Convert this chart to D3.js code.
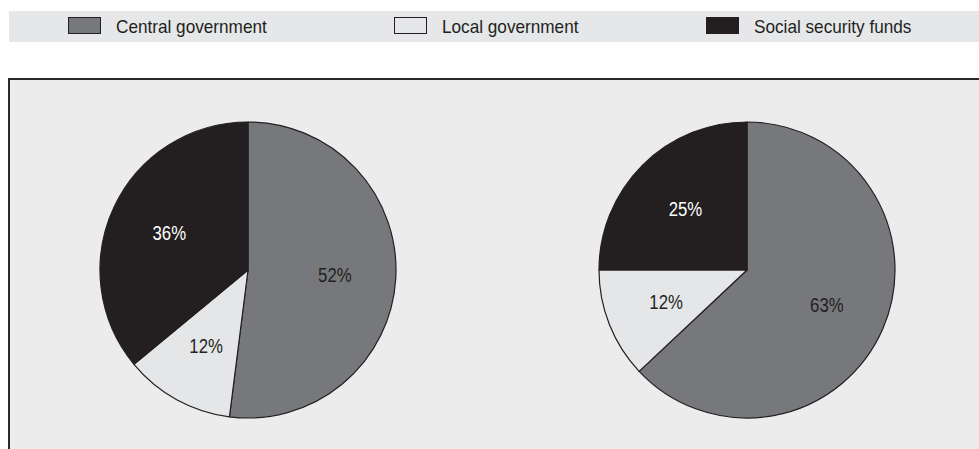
<!DOCTYPE html>
<html>
<head>
<meta charset="utf-8">
<script src="https://cdn.jsdelivr.net/npm/d3@7"></script>
<style>
  html, body { margin: 0; padding: 0; background: #ffffff; }
  svg { display: block; }
  text { font-family: "Liberation Sans", Arial, Helvetica, sans-serif; }
</style>
</head>
<body>
<svg id="chart" width="979" height="449"></svg>
<script>
// Sectors of general government
const categories = ["Central government", "Local government", "Social security funds"];
// Shares (%) for the two pies, in category order
const leftShares = [52, 12, 36];
const rightShares = [63, 12, 25];
const colors = ["#77787b", "#e5e6e8", "#231f20"];
const labelColors = ["#231f20", "#231f20", "#ffffff"];

const W = 979, H = 449;
const svg = d3.select("#chart");

// Legend band
svg.append("rect").attr("x", 9).attr("y", 11).attr("width", W - 9).attr("height", 31).attr("fill", "#e6e7e8");

const legendX = d3.scaleOrdinal().domain(categories).range([68, 394, 706]);
const legend = svg.append("g").selectAll("g").data(categories).join("g")
  .attr("transform", d => `translate(${legendX(d)},17)`);
legend.append("rect")
  .attr("x", 0.5).attr("y", 0.5).attr("width", 32).attr("height", 16)
  .attr("fill", (d, i) => colors[i])
  .attr("stroke", "#231f20").attr("stroke-width", 1);
legend.append("text")
  .attr("transform", "translate(48,16) scale(0.955,1)")
  .attr("font-size", 18).attr("fill", "#231f20")
  .text(d => d);

// Framed panel
svg.append("rect").attr("x", 9).attr("y", 79).attr("width", W + 20).attr("height", H)
  .attr("fill", "#ececec").attr("stroke", "#2a2a2a").attr("stroke-width", 2);

const radius = 148;
const pie = d3.pie().sort(null).value(d => d);
const arc = d3.arc().innerRadius(0).outerRadius(radius);
const labelArc = d3.arc().innerRadius(87).outerRadius(87);

function drawPie(values, cx, cy) {
  const g = svg.append("g").attr("transform", `translate(${cx},${cy})`);
  const arcs = pie(values);
  g.selectAll("path").data(arcs).join("path")
    .attr("d", arc)
    .attr("fill", (d, i) => colors[i])
    .attr("stroke", "#231f20").attr("stroke-width", 1.2).attr("stroke-linejoin", "round");
  g.selectAll("text").data(arcs).join("text")
    .attr("transform", d => `translate(${labelArc.centroid(d)}) scale(0.86,1)`)
    .attr("text-anchor", "middle").attr("dy", "0.36em")
    .attr("font-size", 19.5)
    .attr("fill", (d, i) => labelColors[i])
    .text(d => d.value + "%");
}

drawPie(leftShares, 248, 270);
drawPie(rightShares, 747, 270);
</script>
</body>
</html>
